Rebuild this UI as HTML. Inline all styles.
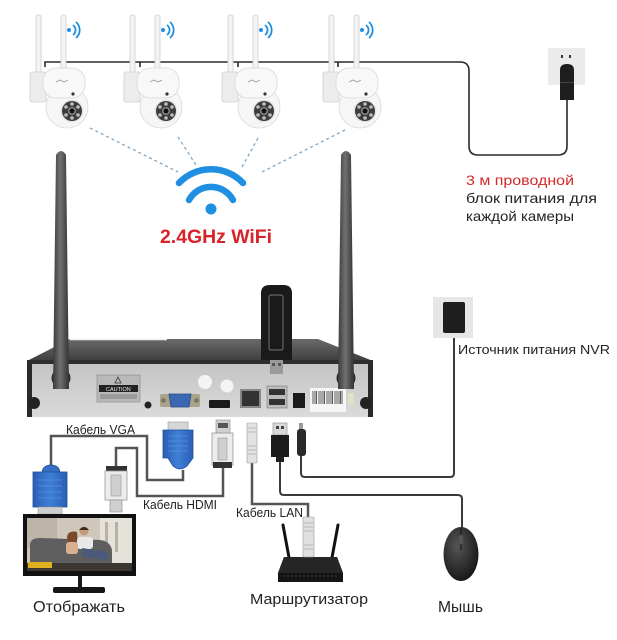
<!DOCTYPE html>
<html><head><meta charset="utf-8"><style>
html,body{margin:0;padding:0;background:#fff;}
svg{display:block;}
text{font-family:"Liberation Sans",sans-serif;}
</style></head><body>
<svg width="617" height="640" viewBox="0 0 617 640" xmlns="http://www.w3.org/2000/svg">
<defs>
<linearGradient id="ant" x1="0" x2="1" y1="0" y2="0">
<stop offset="0" stop-color="#3a3a3a"/><stop offset="0.45" stop-color="#707070"/><stop offset="1" stop-color="#333"/>
</linearGradient>
<linearGradient id="topS" x1="0" x2="0" y1="0" y2="1">
<stop offset="0" stop-color="#6a6a6a"/><stop offset="1" stop-color="#3e3e3e"/>
</linearGradient>
<linearGradient id="front" x1="0" x2="0" y1="0" y2="1">
<stop offset="0" stop-color="#c4c4c4"/><stop offset="1" stop-color="#dadada"/>
</linearGradient>
<radialGradient id="mouseG" cx="0.4" cy="0.35" r="0.7">
<stop offset="0" stop-color="#555"/><stop offset="1" stop-color="#151515"/>
</radialGradient>
<linearGradient id="blue" x1="0" x2="1" y1="0" y2="0">
<stop offset="0" stop-color="#2a5fb5"/><stop offset="0.5" stop-color="#3f7fd6"/><stop offset="1" stop-color="#2a5fb5"/>
</linearGradient>
<g id="cam">
<rect x="36" y="15" width="5" height="64" rx="2" fill="#f3f3f3" stroke="#cfcfcf" stroke-width="0.8"/>
<rect x="61" y="15" width="5" height="58" rx="2" fill="#f3f3f3" stroke="#cfcfcf" stroke-width="0.8"/>
<rect x="30" y="72" width="16" height="30" rx="2" fill="#ececec" stroke="#d0d0d0" stroke-width="0.8"/>
<circle cx="67" cy="107" r="21" fill="#f6f6f6" stroke="#d8d8d8" stroke-width="0.8"/>
<rect x="43" y="68" width="42" height="30" rx="13" fill="#f8f8f8" stroke="#d8d8d8" stroke-width="0.8"/>
<path d="M56 82 l4 -2 l4 2 l4 -2" stroke="#999" stroke-width="0.8" fill="none"/>
<circle cx="73" cy="94" r="1.6" fill="#333"/>
<circle cx="72" cy="111" r="11.5" fill="#e6e6e6"/>
<circle cx="72" cy="111" r="10" fill="#3c3c3c"/>
<g fill="#bdbdbd">
<circle cx="72" cy="104" r="1.8"/><circle cx="78" cy="107" r="1.8"/><circle cx="78" cy="115" r="1.8"/>
<circle cx="72" cy="118" r="1.8"/><circle cx="66" cy="115" r="1.8"/><circle cx="66" cy="107" r="1.8"/>
</g>
<circle cx="72" cy="111" r="4" fill="#888"/><circle cx="72" cy="111" r="2.5" fill="#111"/>
<circle cx="69" cy="30" r="2" fill="#1e8fe1"/>
<path d="M73.5 25.5 A6 6 0 0 1 73.5 34.5" stroke="#1e8fe1" stroke-width="1.8" fill="none" stroke-linecap="round"/>
<path d="M76.5 22.5 A10.5 10.5 0 0 1 76.5 37.5" stroke="#1e8fe1" stroke-width="1.8" fill="none" stroke-linecap="round"/>
</g>
</defs>

<!-- top power cable -->
<path d="M45 67 L45 62 L460 62 Q469 62 469 71 L469 146 Q469 155 478 155 L558 155 Q567 155 567 146 L567 100" stroke="#2a2a2a" stroke-width="1.6" fill="none"/>
<path d="M140 62 v5 M238 62 v5 M338 62 v5" stroke="#2a2a2a" stroke-width="1.6"/>

<!-- cameras -->
<use href="#cam"/>
<use href="#cam" x="94"/>
<use href="#cam" x="192"/>
<use href="#cam" x="293"/>

<!-- camera power wall socket -->
<rect x="548" y="48" width="37" height="37" fill="#ebebeb"/>
<rect x="561" y="55" width="2" height="3" fill="#333"/><rect x="569" y="55" width="2" height="3" fill="#333"/>
<path d="M560 100 L560 70 Q560 64 567 64 Q574 64 574 70 L574 100 Z" fill="#1e1e1e"/>
<rect x="560" y="82" width="14" height="1" fill="#444"/>

<!-- dashed wifi lines -->
<g stroke="#7fa6c6" stroke-width="1.3" stroke-dasharray="3,3" fill="none">
<line x1="90" y1="128" x2="178" y2="172"/>
<line x1="178" y1="137" x2="196" y2="165"/>
<line x1="258" y1="138" x2="242" y2="167"/>
<line x1="345" y1="130" x2="260" y2="173"/>
</g>

<!-- big wifi symbol -->
<path d="M179 183 A44 44 0 0 1 243 183" stroke="#1e8fe1" stroke-width="6.5" fill="none" stroke-linecap="round"/>
<path d="M189 200 A25 25 0 0 1 233 200" stroke="#1e8fe1" stroke-width="6.5" fill="none" stroke-linecap="round"/>
<circle cx="211" cy="209" r="5.5" fill="#1e8fe1"/>
<text x="160" y="243" font-size="19" font-weight="bold" fill="#d8232a" textLength="112" lengthAdjust="spacingAndGlyphs">2.4GHz WiFi</text>

<!-- right texts -->
<text x="466" y="185" font-size="14" fill="#d42a2a" textLength="108" lengthAdjust="spacingAndGlyphs">3 м проводной</text>
<text x="466" y="203" font-size="14" fill="#222" textLength="131" lengthAdjust="spacingAndGlyphs">блок питания для</text>
<text x="466" y="221" font-size="14" fill="#222" textLength="108" lengthAdjust="spacingAndGlyphs">каждой камеры</text>

<!-- NVR power socket -->
<rect x="433" y="297" width="40" height="41" fill="#e6e6e6"/>
<rect x="443" y="302" width="22" height="31" rx="2" fill="#1e1e1e"/>
<text x="458" y="354" font-size="13" fill="#222" textLength="152" lengthAdjust="spacingAndGlyphs">Источник питания NVR</text>

<!-- NVR power cable -->
<path d="M454 338 L454 473 Q454 477 450 477 L305 477 Q301 477 301 473 L301 455" stroke="#3a3a3a" stroke-width="2" fill="none"/>
<!-- mouse cable -->
<path d="M280 457 L280 491 Q280 495 284 495 L458 495 Q462 495 462 499 L462 528" stroke="#3a3a3a" stroke-width="2" fill="none"/>
<!-- LAN cable -->
<path d="M252 463 L252 504 L308 504 L308 518" stroke="#555" stroke-width="2.5" fill="none"/>
<!-- VGA cable -->
<path d="M51 468 L51 436 L147 436 L147 480 L183 480 L183 470" stroke="#555" stroke-width="2.5" fill="none"/>
<!-- HDMI cable -->
<path d="M116 466 L116 448 L137 448 L137 496 L223 496 L223 468" stroke="#555" stroke-width="2.5" fill="none"/>

<!-- NVR body -->
<polygon points="70,339 318,339 373,361 27,361" fill="url(#topS)"/>
<line x1="70" y1="339.5" x2="167" y2="339.5" stroke="#f0f0f0" stroke-width="1.5"/>
<rect x="27" y="360" width="346" height="5" fill="#2e2e2e"/>
<rect x="27" y="364" width="346" height="53" fill="url(#front)"/>
<rect x="27" y="362" width="5" height="55" fill="#2a2a2a"/>
<rect x="368" y="362" width="5" height="55" fill="#2a2a2a"/>
<circle cx="34" cy="403" r="6" fill="#222"/>
<circle cx="366" cy="403" r="6" fill="#222"/>
<!-- caution label -->
<rect x="97" y="375" width="43" height="27" fill="#b9b9b9" stroke="#888" stroke-width="0.6"/>
<path d="M118 377 l3 6 h-6 z" fill="none" stroke="#333" stroke-width="0.8"/>
<rect x="99" y="385" width="39" height="7" fill="#222"/>
<text x="106" y="391" font-size="5.5" fill="#eee">CAUTION</text>
<rect x="100" y="394" width="37" height="5" fill="#9a9a9a"/>
<circle cx="148" cy="405" r="3.5" fill="#222"/>
<!-- VGA port -->
<rect x="160" y="394" width="40" height="13" rx="2" fill="#a9a38a"/>
<circle cx="163.5" cy="400.5" r="2.3" fill="#7a7560"/><circle cx="196.5" cy="400.5" r="2.3" fill="#7a7560"/>
<path d="M169 394 h22 l-2 13 h-18 z" fill="#3c68b3" stroke="#2a4c88" stroke-width="0.8"/>
<circle cx="205" cy="382" r="7" fill="#f4f4f4"/>
<circle cx="227" cy="386" r="6.5" fill="#f4f4f4"/>
<rect x="209" y="400" width="21" height="8" rx="1" fill="#1a1a1a"/>
<!-- LAN port -->
<rect x="240" y="389" width="21" height="19" fill="#888"/>
<rect x="242" y="391" width="17" height="15" fill="#333"/>
<!-- USB ports -->
<rect x="267" y="386" width="20" height="22" fill="#bbb" stroke="#777" stroke-width="0.6"/>
<rect x="269" y="389" width="16" height="6" fill="#333"/>
<rect x="269" y="399" width="16" height="6" fill="#333"/>
<rect x="293" y="393" width="12" height="15" fill="#1a1a1a"/>
<!-- barcode -->
<rect x="310" y="388" width="36" height="24" fill="#f6f6f6"/>
<g stroke="#333" stroke-width="0.8">
<path d="M313 391v13 M315 391v13 M316.5 391v13 M319 391v13 M321 391v13 M323 391v13 M324.5 391v13 M327 391v13 M329 391v13 M331 391v13 M332.5 391v13 M335 391v13 M337 391v13 M339 391v13 M340.5 391v13 M342 391v13"/>
</g>
<rect x="348" y="393" width="6" height="12" fill="#dfe3c8"/>

<!-- antennas NVR -->
<circle cx="61" cy="378" r="9.5" fill="#2c2c2c"/>
<path d="M53 389 L56 155 Q61 147 66 155 L69 389 Z" fill="url(#ant)"/>
<circle cx="346" cy="378" r="9.5" fill="#2c2c2c"/>
<path d="M338 389 L341 155 Q346 147 351 155 L354 389 Z" fill="url(#ant)"/>

<!-- USB dongle -->
<rect x="270" y="358" width="13" height="16" fill="#9a9a9a"/>
<rect x="272" y="363" width="3" height="3" fill="#555"/><rect x="278" y="363" width="3" height="3" fill="#555"/>
<path d="M261 360 L261 293 Q261 285 270 285 L283 285 Q292 285 292 293 L292 360 Z" fill="#1a1a1a"/>
<rect x="269" y="295" width="14" height="55" rx="2" fill="none" stroke="#666" stroke-width="1.2"/>

<!-- NVR-side connectors -->
<rect x="168" y="422" width="20" height="9" fill="#d6d6d6" stroke="#999" stroke-width="0.6"/>
<path d="M163 430 H193 V458 L187 466 Q180 472 173 466 L168 458 L163 458 Z" fill="url(#blue)" stroke="#1e4f9a" stroke-width="0.8"/>
<path d="M168 436 h20 M168 441 h20 M168 446 h20 M168 451 h20" stroke="#5b8fdc" stroke-width="0.8"/>
<rect x="216" y="420" width="14" height="13" fill="#cfcfcf" stroke="#888" stroke-width="0.6"/>
<rect x="218" y="423" width="10" height="5" fill="#555"/>
<rect x="212" y="433" width="21" height="32" fill="#ececec" stroke="#999" stroke-width="0.8"/>
<rect x="218" y="438" width="9" height="22" fill="#cfcfcf" stroke="#888" stroke-width="0.5"/>
<rect x="213" y="462" width="19" height="6" fill="#333"/>
<rect x="247" y="423" width="10" height="40" rx="1" fill="#e2e2e2" stroke="#999" stroke-width="0.6"/>
<path d="M248 428 h8 M248 432 h8 M248 446 h8 M248 450 h8 M248 454 h8" stroke="#aaa" stroke-width="0.7"/>
<rect x="273" y="423" width="14" height="12" fill="#d8d8d8" stroke="#888" stroke-width="0.6"/>
<rect x="276" y="426" width="3" height="3" fill="#444"/><rect x="281" y="426" width="3" height="3" fill="#444"/>
<rect x="271" y="435" width="18" height="22" fill="#1c1c1c"/>
<rect x="276" y="457" width="8" height="5" fill="#222"/>
<rect x="299" y="423" width="4" height="7" fill="#999"/>
<rect x="297" y="429" width="9" height="27" rx="3" fill="#2a2a2a"/>

<!-- monitor side connectors -->
<path d="M42 474 Q42 465 51 465 Q60 465 60 474 Z" fill="#3570c4" stroke="#1e4f9a" stroke-width="0.8"/>
<rect x="33" y="472" width="34" height="35" fill="url(#blue)" stroke="#1e4f9a" stroke-width="0.8"/>
<path d="M38 480 h24 M38 486 h24 M38 492 h24 M38 498 h24" stroke="#5b8fdc" stroke-width="0.8"/>
<rect x="38" y="507" width="24" height="7" fill="#cfcfcf" stroke="#999" stroke-width="0.6"/>
<rect x="106" y="466" width="21" height="6" fill="#333"/>
<rect x="105" y="471" width="22" height="29" fill="#ececec" stroke="#999" stroke-width="0.8"/>
<rect x="111" y="475" width="10" height="21" fill="#cfcfcf" stroke="#888" stroke-width="0.5"/>
<rect x="110" y="500" width="12" height="12" fill="#cfcfcf" stroke="#888" stroke-width="0.6"/>

<!-- labels -->
<text x="66" y="434" font-size="12.5" fill="#222" textLength="69" lengthAdjust="spacingAndGlyphs">Кабель VGA</text>
<text x="143" y="509" font-size="12.5" fill="#222" textLength="74" lengthAdjust="spacingAndGlyphs">Кабель HDMI</text>
<text x="236" y="517" font-size="12.5" fill="#222" textLength="67" lengthAdjust="spacingAndGlyphs">Кабель LAN</text>

<!-- monitor -->
<rect x="23" y="514" width="113" height="62" fill="#111"/>
<rect x="27" y="518" width="105" height="53" fill="#cfc8ba"/>
<rect x="100" y="518" width="32" height="53" fill="#e4e2da"/>
<rect x="105" y="522" width="3" height="30" fill="#b8b2a4"/><rect x="115" y="522" width="3" height="30" fill="#b8b2a4"/>
<rect x="27" y="518" width="30" height="30" fill="#bdb6a8"/>
<path d="M30 545 Q30 538 40 538 L100 540 Q110 541 112 550 L112 565 L30 565 Z" fill="#5e5e5e"/>
<rect x="27" y="563" width="105" height="8" fill="#3b3631"/>
<circle cx="84" cy="531" r="4.5" fill="#c89878"/><path d="M79 530 Q84 524 89 530 Z" fill="#3a2a20"/>
<circle cx="72" cy="537" r="4.5" fill="#c89878"/><path d="M67 537 Q68 530 77 532 L78 545 L68 545 Z" fill="#7a4a2a"/>
<rect x="77" y="537" width="16" height="12" rx="3" fill="#e8e8e8"/>
<rect x="66" y="542" width="12" height="12" rx="3" fill="#d6b090"/>
<path d="M82 548 L108 552 L108 560 L82 557 Z" fill="#4a5a78"/>
<rect x="28" y="562" width="24" height="6" fill="#e0b020"/>
<rect x="78" y="576" width="4" height="11" fill="#1a1a1a"/>
<rect x="53" y="587" width="52" height="6" rx="2" fill="#161616"/>
<text x="33" y="612" font-size="16" fill="#222" textLength="92" lengthAdjust="spacingAndGlyphs">Отображать</text>

<!-- router -->
<line x1="283" y1="525" x2="290" y2="563" stroke="#111" stroke-width="3" stroke-linecap="round"/>
<line x1="338" y1="525" x2="331" y2="563" stroke="#111" stroke-width="3" stroke-linecap="round"/>
<path d="M284 557 L337 557 L343 573 L343 582 L278 582 L278 573 Z" fill="#141414"/>
<path d="M284 557 L337 557 L343 573 L278 573 Z" fill="#262626"/>
<path d="M283 576 h56" stroke="#444" stroke-width="1" stroke-dasharray="2,2"/>
<rect x="303" y="517" width="11" height="40" rx="1" fill="#e0e0e0" stroke="#999" stroke-width="0.6"/>
<path d="M304 523 h9 M304 527 h9 M304 531 h9 M304 545 h9 M304 549 h9" stroke="#aaa" stroke-width="0.7"/>
<text x="250" y="604" font-size="15" fill="#222" textLength="118" lengthAdjust="spacingAndGlyphs">Маршрутизатор</text>

<!-- mouse -->
<ellipse cx="461" cy="554" rx="17.5" ry="27" fill="url(#mouseG)"/>
<path d="M461 528 L461 550" stroke="#111" stroke-width="1"/>
<rect x="459" y="535" width="4" height="9" rx="2" fill="#555"/>
<text x="438" y="612" font-size="16" fill="#222" textLength="45" lengthAdjust="spacingAndGlyphs">Мышь</text>
</svg>
</body></html>
